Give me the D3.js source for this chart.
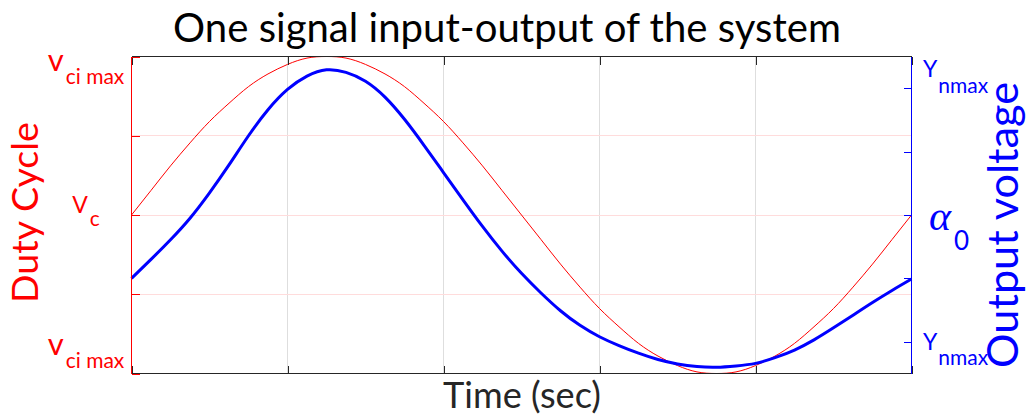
<!DOCTYPE html>
<html>
<head>
<meta charset="utf-8">
<script src="https://cdn.jsdelivr.net/npm/d3@7"></script>
<style>
  html, body { margin: 0; padding: 0; background: #fff; }
  svg { display: block; }
  text { font-family: Lato, "Noto Sans", sans-serif; }
</style>
</head>
<body>
<div id="chart"></div>
<script>
// Sample times (sec) over one period of the input signal
const time = [0, 0.125, 0.25, 0.375, 0.5, 0.625, 0.75, 0.875, 1, 1.125, 1.25, 1.375, 1.5, 1.625, 1.75, 1.875,
  2, 2.125, 2.25, 2.375, 2.5, 2.625, 2.75, 2.875, 3, 3.125, 3.25, 3.375, 3.5, 3.625, 3.75, 3.875,
  4, 4.125, 4.25, 4.375, 4.5, 4.625, 4.75, 4.875, 5];

// Input: duty cycle (left axis)
const dutyCycle = [0, 0.31, 0.62, 0.91, 1.18, 1.41, 1.62, 1.78, 1.90, 1.98, 2.00, 1.98, 1.90, 1.78, 1.62, 1.41,
  1.18, 0.91, 0.62, 0.31, 0, -0.31, -0.62, -0.91, -1.18, -1.41, -1.62, -1.78, -1.90, -1.98, -2.00, -1.98,
  -1.90, -1.78, -1.62, -1.41, -1.18, -0.91, -0.62, -0.31, 0];

// Output: voltage response (right axis)
const outputVoltage = [-1.00, -0.70, -0.39, -0.05, 0.35, 0.79, 1.25, 1.66, 1.98, 2.19, 2.29, 2.25, 2.11, 1.86, 1.51, 1.10,
  0.67, 0.24, -0.18, -0.57, -0.92, -1.23, -1.51, -1.74, -1.92, -2.06, -2.18, -2.28, -2.35, -2.39, -2.40, -2.38,
  -2.34, -2.25, -2.13, -1.97, -1.78, -1.58, -1.38, -1.19, -1.01];

// Axis ticks and labels
const xTicks = [0, 1, 2, 3, 4, 5];
const leftTicks = [-2, -1, 0, 1, 2];
const rightTicks = [-2, -1, 0, 1, 2];
const leftLabels = [
  { value: 2, main: "v", sub: "ci max" },
  { value: 0, main: "V", sub: "c" },
  { value: -2, main: "v", sub: "ci max" }
];
const rightLabels = [
  { value: 2, main: "Y", sub: "nmax" },
  { value: 0, main: "\u03B1", sub: "0" },
  { value: -2, main: "Y", sub: "nmax" }
];
const titleText = "One signal input-output of the system";
const xLabelText = "Time (sec)";
const leftLabelText = "Duty Cycle";
const rightLabelText = "Output voltage";

const W = 1029, H = 417;
const plot = { left: 131.5, right: 911.5, top: 56.5, bottom: 373.5 };
const RED = "#ff0000", BLUE = "#0000ff", INK = "#262626";

const svg = d3.select("#chart").append("svg").attr("width", W).attr("height", H);

const x = d3.scaleLinear().domain([0, 5]).range([plot.left, plot.right]);
const yL = d3.scaleLinear().domain([-2, 2]).range([plot.bottom, plot.top]);
const yR = d3.scaleLinear().domain([-2.5, 2.5]).range([plot.bottom, plot.top]);

// Grid
const grid = svg.append("g");
grid.selectAll("line.v").data(xTicks.slice(1, -1)).join("line")
  .attr("x1", d => x(d)).attr("x2", d => x(d))
  .attr("y1", plot.top).attr("y2", plot.bottom)
  .attr("stroke", "#dedede").attr("stroke-width", 1);
grid.selectAll("line.h").data(leftTicks.slice(1, -1)).join("line")
  .attr("x1", plot.left).attr("x2", plot.right)
  .attr("y1", d => yL(d)).attr("y2", d => yL(d))
  .attr("stroke", "#ffdcdc").attr("stroke-width", 1);

// Curves
const pts = time.map((t, i) => ({ t, d: dutyCycle[i], v: outputVoltage[i] }));
svg.append("path").datum(pts)
  .attr("fill", "none").attr("stroke", RED).attr("stroke-width", 1)
  .attr("d", d3.line().x(p => x(p.t)).y(p => yL(p.d)).curve(d3.curveNatural));
svg.append("path").datum(pts)
  .attr("fill", "none").attr("stroke", BLUE).attr("stroke-width", 3)
  .attr("d", d3.line().x(p => x(p.t)).y(p => yR(p.v)).curve(d3.curveNatural));

// Axes (ticks drawn inward, no numeric labels)
const tickLen = 8;
const xb = svg.append("g").attr("transform", `translate(0,${plot.bottom})`)
  .call(d3.axisTop(x).tickValues(xTicks).tickSize(tickLen).tickFormat(""));
const xt = svg.append("g").attr("transform", `translate(0,${plot.top})`)
  .call(d3.axisBottom(x).tickValues(xTicks).tickSize(tickLen).tickFormat(""));
[xb, xt].forEach(g => {
  g.selectAll("path.domain").attr("stroke", INK).attr("d", `M${plot.left},0H${plot.right}`);
  g.selectAll(".tick line").attr("stroke", INK);
});

const yl = svg.append("g").attr("transform", `translate(${plot.left},0)`)
  .call(d3.axisRight(yL).tickValues(leftTicks).tickSize(tickLen).tickFormat(""));
yl.selectAll("path.domain").attr("stroke", RED).attr("d", `M0,${plot.top}V${plot.bottom}`);
yl.selectAll(".tick line").attr("stroke", RED);

const yr = svg.append("g").attr("transform", `translate(${plot.right},0)`)
  .call(d3.axisLeft(yR).tickValues(rightTicks).tickSize(tickLen).tickFormat(""));
yr.selectAll("path.domain").attr("stroke", BLUE).attr("d", `M0,${plot.top}V${plot.bottom}`);
yr.selectAll(".tick line").attr("stroke", BLUE);

svg.selectAll("g path, g line").attr("shape-rendering", "crispEdges");

// Size a text element so that its rendered length equals the given width
function fitWidth(sel, target) {
  const fs = parseFloat(sel.attr("font-size"));
  const w = sel.node().getComputedTextLength();
  sel.attr("font-size", (fs * target / w).toFixed(2));
  return sel;
}

// Title and axis titles
fitWidth(svg.append("text").attr("x", 507).attr("y", 42).attr("text-anchor", "middle")
  .attr("font-size", 36).attr("fill", "#000").text(titleText), 668);
fitWidth(svg.append("text").attr("x", 522).attr("y", 408).attr("text-anchor", "middle")
  .attr("font-size", 30).attr("fill", INK).text(xLabelText), 158);
fitWidth(svg.append("text").attr("transform", "translate(38,212.5) rotate(-90)").attr("text-anchor", "middle")
  .attr("font-size", 32).attr("fill", RED).text(leftLabelText), 181);
fitWidth(svg.append("text").attr("transform", "translate(1018,225) rotate(-90)").attr("text-anchor", "middle")
  .attr("font-size", 32).attr("fill", BLUE).text(rightLabelText), 286);

// Left tick labels: main symbol with a subscript, centred in the margin
const leftNudge = { "2": [14, 13], "0": [-2.5, 13], "-2": [-19, 13] };
leftLabels.forEach(l => {
  const t = svg.append("text").attr("x", 86).attr("y", yL(l.value) + leftNudge[l.value][0])
    .attr("text-anchor", "middle").attr("fill", RED);
  t.append("tspan").attr("font-size", l.main === "V" ? 23 : 31).text(l.main);
  t.append("tspan").attr("dx", 2).attr("dy", leftNudge[l.value][1]).attr("font-size", 21).text(l.sub);
});

// Right tick labels
const rightPos = { "2": [923, -11, 16], "0": [929, 15, 20], "-2": [923, 8, 15] };
rightLabels.forEach(l => {
  const p = rightPos[l.value];
  const t = svg.append("text").attr("x", p[0]).attr("y", yR(l.value) + p[1]).attr("fill", BLUE);
  if (l.main === "\u03B1") {
    t.append("tspan").attr("font-family", "'Liberation Serif', serif").attr("font-style", "italic")
      .attr("font-size", 42).text(l.main);
    t.append("tspan").attr("dx", 3).attr("dy", p[2]).attr("font-size", 26).text(l.sub);
  } else {
    t.append("tspan").attr("font-size", 23).text(l.main);
    t.append("tspan").attr("dx", 1).attr("dy", p[2]).attr("font-size", 21).text(l.sub);
  }
});
</script>
</body>
</html>
